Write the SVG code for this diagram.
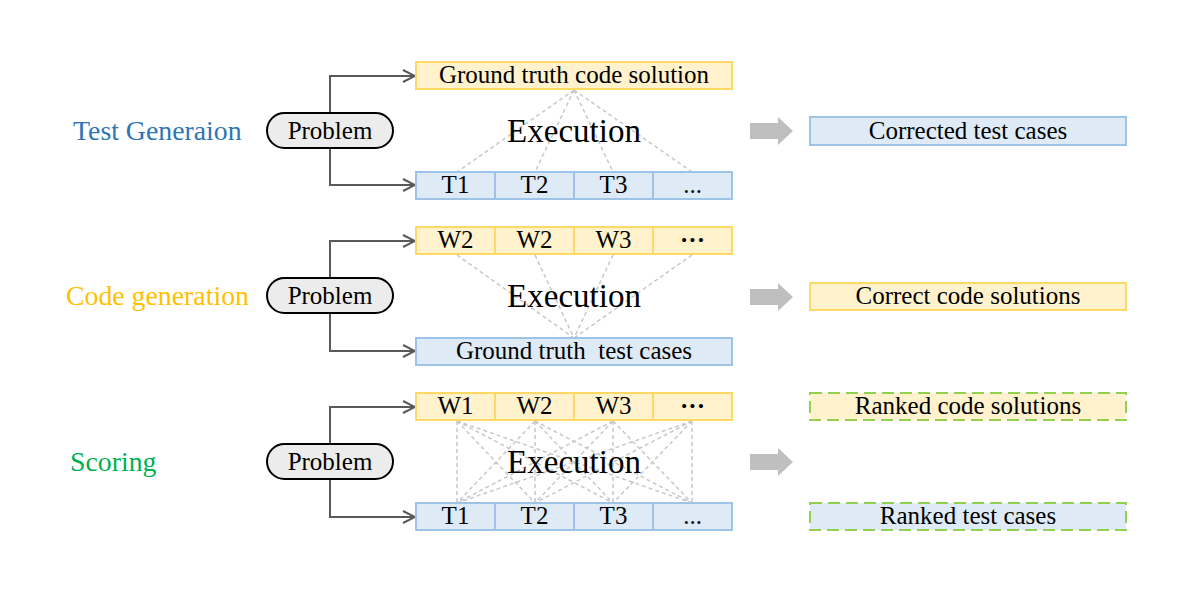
<svg xmlns="http://www.w3.org/2000/svg" width="1178" height="593" viewBox="0 0 1178 593">
<style>
text{font-family:"Liberation Serif","Times New Roman",serif;fill:#000}
.lbl{font-size:27.8px}
.t{font-size:25px;text-anchor:middle}
.ex{font-size:33px;text-anchor:middle}
.y{fill:#fff2cc;stroke:#ffd966;stroke-width:2}
.b{fill:#deebf7;stroke:#9dc3e6;stroke-width:2}
.gy{fill:#fff2cc;stroke:#92d050;stroke-width:2;stroke-dasharray:12 6}
.gb{fill:#deebf7;stroke:#92d050;stroke-width:2;stroke-dasharray:12 6}
.pill{fill:#ececec;stroke:#000;stroke-width:2}
.conn{fill:none;stroke:#595959;stroke-width:2;marker-end:url(#ah)}
.d{stroke:#c8c8c8;stroke-width:1.5;stroke-dasharray:4 3;fill:none}
.ga{fill:#bfbfbf}
</style>
<defs>
<marker id="ah" markerUnits="userSpaceOnUse" markerWidth="16" markerHeight="16" viewBox="-14 -8 16 16" refX="0" refY="0" orient="auto">
<path d="M-12,-6 L0,0 L-12,6" fill="none" stroke="#595959" stroke-width="2"/>
</marker>
</defs>

<!-- labels -->
<text id="lbl-test" class="lbl" x="73" y="140" style="fill:#2e75b6">Test Generaion</text>
<text id="lbl-code" class="lbl" x="66" y="305" style="fill:#ffc000">Code generation</text>
<text id="lbl-score" class="lbl" x="70" y="471" style="fill:#00b050">Scoring</text>

<!-- connectors -->
<g id="connectors">
<path class="conn" d="M330,113 V76 H415"/>
<path class="conn" d="M330,148 V185 H415"/>
<path class="conn" d="M330,278 V241 H415"/>
<path class="conn" d="M330,313 V351 H415"/>
<path class="conn" d="M330,444 V407 H415"/>
<path class="conn" d="M330,479 V517 H415"/>
<!-- row1 execution lines -->
<path class="d" d="M574,90 L457,172 M574,90 L535,172 M574,90 L613,172 M574,90 L692,172"/>
<!-- row2 execution lines -->
<path class="d" d="M457,255 L574,338 M535,255 L574,338 M613,255 L574,338 M692,255 L574,338"/>
<!-- row3 execution lines -->
<path class="d" d="M457,421 L457,503 M457,421 L535,503 M457,421 L613,503 M457,421 L692,503
M535,421 L457,503 M535,421 L535,503 M535,421 L613,503 M535,421 L692,503
M613,421 L457,503 M613,421 L535,503 M613,421 L613,503 M613,421 L692,503
M692,421 L457,503 M692,421 L535,503 M692,421 L613,503 M692,421 L692,503"/>
<!-- block arrows -->
<path class="ga" d="M750,123 H778 V117 L793,131 L778,145 V139 H750 Z"/>
<path class="ga" d="M750,289 H778 V283 L793,297 L778,311 V305 H750 Z"/>
<path class="ga" d="M750,454 H778 V448 L793,462 L778,476 V470 H750 Z"/>
</g>

<!-- Row 1 -->
<g id="problem1"><rect class="pill" x="267" y="113" width="126" height="35" rx="17.5"/><text class="t" x="330" y="139">Problem</text></g>
<g id="gt-code"><rect class="y" x="416" y="62" width="316" height="27"/><text class="t" x="574" y="83">Ground truth code solution</text></g>
<g id="tests1">
<rect class="b" x="416" y="172" width="79" height="27"/><text class="t" x="455.5" y="193">T1</text>
<rect class="b" x="495" y="172" width="79" height="27"/><text class="t" x="534.5" y="193">T2</text>
<rect class="b" x="574" y="172" width="79" height="27"/><text class="t" x="613.5" y="193">T3</text>
<rect class="b" x="653" y="172" width="79" height="27"/><text class="t" x="692.5" y="193">...</text>
</g>
<text id="exec1" class="ex" x="574" y="142">Execution</text>
<g id="out1"><rect class="b" x="810" y="117" width="316" height="28"/><text class="t" x="968" y="139">Corrected test cases</text></g>

<!-- Row 2 -->
<g id="problem2"><rect class="pill" x="267" y="278" width="126" height="35" rx="17.5"/><text class="t" x="330" y="304">Problem</text></g>
<g id="codes2">
<rect class="y" x="416" y="227" width="79" height="27"/><text class="t" x="455.5" y="248">W2</text>
<rect class="y" x="495" y="227" width="79" height="27"/><text class="t" x="534.5" y="248">W2</text>
<rect class="y" x="574" y="227" width="79" height="27"/><text class="t" x="613.5" y="248">W3</text>
<rect class="y" x="653" y="227" width="79" height="27"/><text class="t" x="692.5" y="248" font-weight="bold">···</text>
</g>
<g id="gt-tests"><rect class="b" x="416" y="338" width="316" height="27"/><text class="t" x="574" y="359" xml:space="preserve">Ground truth  test cases</text></g>
<text id="exec2" class="ex" x="574" y="307">Execution</text>
<g id="out2"><rect class="y" x="810" y="283" width="316" height="27"/><text class="t" x="968" y="304">Correct code solutions</text></g>

<!-- Row 3 -->
<g id="problem3"><rect class="pill" x="267" y="444" width="126" height="35" rx="17.5"/><text class="t" x="330" y="470">Problem</text></g>
<g id="codes3">
<rect class="y" x="416" y="393" width="79" height="27"/><text class="t" x="455.5" y="414">W1</text>
<rect class="y" x="495" y="393" width="79" height="27"/><text class="t" x="534.5" y="414">W2</text>
<rect class="y" x="574" y="393" width="79" height="27"/><text class="t" x="613.5" y="414">W3</text>
<rect class="y" x="653" y="393" width="79" height="27"/><text class="t" x="692.5" y="414" font-weight="bold">···</text>
</g>
<g id="tests3">
<rect class="b" x="416" y="503" width="79" height="27"/><text class="t" x="455.5" y="524">T1</text>
<rect class="b" x="495" y="503" width="79" height="27"/><text class="t" x="534.5" y="524">T2</text>
<rect class="b" x="574" y="503" width="79" height="27"/><text class="t" x="613.5" y="524">T3</text>
<rect class="b" x="653" y="503" width="79" height="27"/><text class="t" x="692.5" y="524">...</text>
</g>
<text id="exec3" class="ex" x="574" y="473">Execution</text>
<g id="out3a"><rect class="gy" x="810" y="393" width="316" height="27"/><text class="t" x="968" y="414">Ranked code solutions</text></g>
<g id="out3b"><rect class="gb" x="810" y="503" width="316" height="27"/><text class="t" x="968" y="524">Ranked test cases</text></g>
</svg>
